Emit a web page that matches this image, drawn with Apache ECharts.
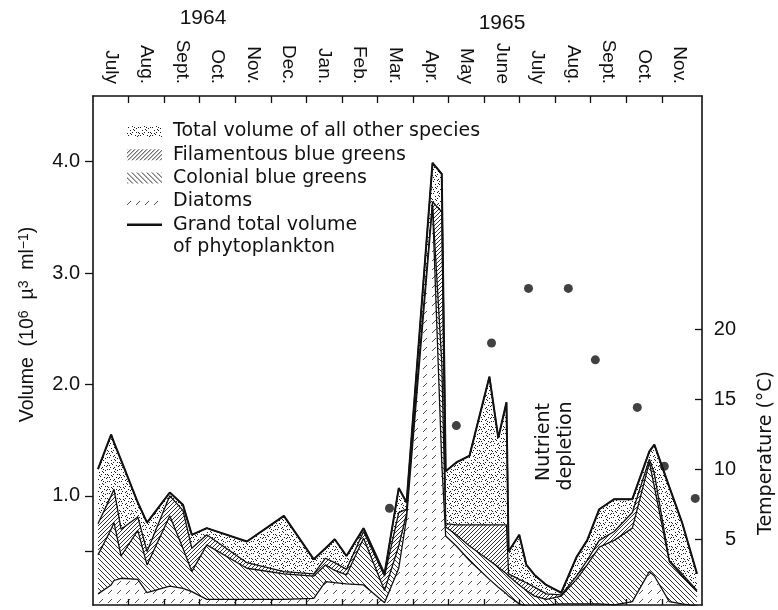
<!DOCTYPE html>
<html>
<head>
<meta charset="utf-8">
<script src="https://cdn.jsdelivr.net/npm/echarts@6/dist/echarts.min.js"></script>
<style>
  html, body { margin: 0; padding: 0; background: #fff; }
  #chart { width: 778px; height: 610px; }
</style>
</head>
<body>
<div id="chart"></div>
<script>
// Sampling dates, in months counted from 1 July 1964
const sampleMonths = [0.14, 0.51, 0.59, 0.79, 1.26, 1.52, 2.16, 2.53, 2.78, 3.20,
  4.33, 5.37, 6.21, 6.54, 6.80, 7.13, 7.61, 8.20, 8.60, 8.82,
  9.55, 9.81, 9.92, 10.22, 10.59, 11.15, 11.40, 11.63, 11.69, 11.99,
  12.19, 12.42, 12.75, 13.17, 13.60, 13.90, 14.24, 14.66, 15.17, 15.65,
  15.79, 16.21, 16.57, 16.99];

// Volume of each group (10^6 µ^3 ml^-1) at every sampling date
const diatoms = [0.12, 0.20, 0.24, 0.26, 0.25, 0.13, 0.19, 0.17, 0.14, 0.07,
  0.07, 0.07, 0.08, 0.23, 0.22, 0.21, 0.20, 0.04, 0.35, 0.80,
  3.60, 1.30, 0.64, 0.55, 0.42, 0.25, 0.18, 0.12, 0.10, 0.03,
  0.01, 0.01, 0.02, 0.03, 0.03, 0.03, 0.03, 0.02, 0.05, 0.32,
  0.28, 0.05, 0.03, 0.01];
const colonialBlueGreens = [0.35, 0.50, 0.52, 0.20, 0.44, 0.25, 0.63, 0.36, 0.18, 0.49,
  0.28, 0.23, 0.20, 0.15, 0.11, 0.08, 0.42, 0.11, 0.20, 0.04,
  0.02, 0.90, 0.08, 0.10, 0.13, 0.17, 0.18, 0.18, 0.18, 0.17,
  0.14, 0.09, 0.05, 0.07, 0.22, 0.35, 0.51, 0.58, 0.66, 0.98,
  0.80, 0.36, 0.25, 0.13];
const filamentousBlueGreens = [0.28, 0.30, 0.30, 0.24, 0.12, 0.12, 0.18, 0.34, 0.21, 0.09,
  0.05, 0.02, 0.02, 0.06, 0.07, 0.05, 0.06, 0.13, 0.30, 0.04,
  0.02, 1.35, 0.03, 0.09, 0.19, 0.32, 0.38, 0.44, 0.02, 0.05,
  0.07, 0.08, 0.05, 0.01, 0.03, 0.04, 0.06, 0.08, 0.14, 0.03,
  0.12, 0.01, 0.02, 0.01];
const otherSpecies = [0.49, 0.55, 0.42, 0.62, 0.13, 0.26, 0.03, 0.05, 0.12, 0.06,
  0.19, 0.50, 0.13, 0.09, 0.21, 0.12, 0.03, 0.02, 0.22, 0.06,
  0.35, 0.34, 0.47, 0.56, 0.62, 1.33, 0.78, 1.10, 0.20, 0.40,
  0.16, 0.11, 0.08, 0.02, 0.17, 0.18, 0.28, 0.29, 0.12, 0.07,
  0.26, 0.66, 0.46, 0.15];

// Water temperature (°C)
const temperatureMonths = [8.34, 10.22, 11.21, 12.25, 13.37, 14.13, 15.31, 16.07, 16.94];
const temperature = [7.2, 13.1, 19.0, 22.9, 22.9, 17.8, 14.4, 10.2, 7.9];

// Axis text
const monthLabels = ['July', 'Aug.', 'Sept.', 'Oct.', 'Nov.', 'Dec.', 'Jan.', 'Feb.', 'Mar.',
  'Apr.', 'May', 'June', 'July', 'Aug.', 'Sept.', 'Oct.', 'Nov.'];
const yearLabels = ['1964', '1965'];
const volumeTicks = [0.5, 1, 2, 3, 4];
const volumeLabels = [1, 2, 3, 4];
const temperatureTicks = [5, 10, 15, 20];

const NAMES = {
  others: 'Total volume of all other species',
  filamentous: 'Filamentous blue greens',
  colonial: 'Colonial blue greens',
  diatoms: 'Diatoms',
  total: 'Grand total volume'
};
const TOTAL_SECOND_LINE = 'of phytoplankton';

const SANS = '"Liberation Sans", Arial, Helvetica, sans-serif';
const WIDE = '"DejaVu Sans", Verdana, sans-serif';
const INK = '#111';

// ---- fill textures -------------------------------------------------------
function tile(size, paint) {
  const cv = document.createElement('canvas');
  cv.width = size; cv.height = size;
  const g = cv.getContext('2d');
  g.fillStyle = '#fff';
  g.fillRect(0, 0, size, size);
  paint(g, size);
  return { image: cv, repeat: 'repeat' };
}
function diagonal(g, s, forward) {
  g.beginPath();
  if (forward) {            // "/"
    g.moveTo(0, s); g.lineTo(s, 0);
    g.moveTo(-1, 1); g.lineTo(1, -1);
    g.moveTo(s - 1, s + 1); g.lineTo(s + 1, s - 1);
  } else {                  // "\"
    g.moveTo(0, 0); g.lineTo(s, s);
    g.moveTo(-1, s - 1); g.lineTo(1, s + 1);
    g.moveTo(s - 1, -1); g.lineTo(s + 1, 1);
  }
  g.stroke();
}
// fixed stipple layout for the "other species" fill
const stipple = tile(12, g => {
  g.fillStyle = '#1c1c1c';
  [[1, 1], [5, 0], [9, 2], [3, 4], [7, 4], [11, 6], [0, 7], [4, 8], [8, 9], [2, 11],
   [6, 11], [10, 10], [5, 6], [9, 6], [1, 9], [11, 1], [7, 1], [3, 7], [11, 9], [6, 3]]
    .forEach(p => g.fillRect(p[0], p[1], 1, 1));
});
const filamentousHatch = tile(4, (g, s) => {
  g.strokeStyle = '#1a1a1a'; g.lineWidth = 0.9; diagonal(g, s, true);
});
const colonialHatch = tile(5, (g, s) => {
  g.strokeStyle = '#1a1a1a'; g.lineWidth = 0.9; diagonal(g, s, false);
});
const diatomHatch = tile(9, g => {
  g.strokeStyle = '#3a3a3a'; g.lineWidth = 0.9;
  g.beginPath(); g.moveTo(0, 9); g.lineTo(4, 5); g.stroke();
});

// ---- stacked boundaries ---------------------------------------------------
const layerOrder = [diatoms, colonialBlueGreens, filamentousBlueGreens, otherSpecies];
const tops = [];
layerOrder.forEach((layer, k) => {
  tops.push(layer.map((v, i) => +(v + (k ? tops[k - 1][i] : 0)).toFixed(3)));
});
const grandTotal = tops[3];

function areaSeries(name, top, fill, z) {
  return {
    type: 'line', name, z,
    data: sampleMonths.map((m, i) => [m, top[i]]),
    symbol: 'none', showSymbol: false,
    lineStyle: { color: INK, width: 1.3 },
    itemStyle: { color: INK },
    areaStyle: { color: fill, opacity: 1, origin: 'start' },
    silent: true
  };
}

const monthCenters = monthLabels.map((_, i) => i + 0.5);
const monthEdges = monthLabels.slice(1).map((_, i) => i + 1);
const X_MAX = 17.13;

const axisLineStyle = { color: INK, width: 1.6 };
const tickStyle = { color: INK, width: 1.3 };
const legendText = { fontSize: 19, fontFamily: WIDE, color: INK, lineHeight: 23 };

const option = {
  animation: false,
  backgroundColor: '#fff',
  textStyle: { fontFamily: SANS },
  grid: { left: 93, right: 76, top: 96, bottom: 5 },
  xAxis: [
    {
      type: 'value', position: 'top', min: 0, max: X_MAX, z: 10,
      axisLine: { show: true, onZero: false, lineStyle: axisLineStyle },
      axisTick: { show: true, inside: true, length: 7, customValues: monthEdges, lineStyle: tickStyle },
      axisLabel: {
        show: true, customValues: monthCenters, rotate: 90, margin: 12,
        formatter: v => monthLabels[Math.floor(v)],
        fontSize: 19, fontFamily: SANS, color: INK
      },
      splitLine: { show: false }
    },
    {
      type: 'value', position: 'bottom', min: 0, max: X_MAX, z: 10,
      axisLine: { show: true, onZero: false, lineStyle: axisLineStyle },
      axisTick: { show: true, inside: true, length: 6, customValues: monthEdges, lineStyle: tickStyle },
      axisLabel: { show: false },
      splitLine: { show: false }
    }
  ],
  yAxis: [
    {
      type: 'value', position: 'left', min: 0.02, max: 4.59, z: 10,
      axisLine: { show: true, onZero: false, lineStyle: axisLineStyle },
      axisTick: { show: true, inside: false, length: 8, customValues: volumeTicks, lineStyle: tickStyle },
      axisLabel: {
        customValues: volumeLabels, formatter: v => v.toFixed(1), margin: 13,
        fontSize: 20, fontFamily: SANS, color: INK
      },
      splitLine: { show: false },
      name: 'Volume  (10{s|6}  µ{s|3}  ml{s|−1})',
      nameLocation: 'middle', nameRotate: 90, nameGap: 54,
      nameTextStyle: {
        fontSize: 19.5, fontFamily: SANS, color: INK, padding: [0, 0, 0, 52],
        rich: { s: { fontSize: 14, fontFamily: SANS, color: INK, verticalAlign: 'top', lineHeight: 22 } }
      }
    },
    {
      type: 'value', position: 'right', min: 0.29, max: 36.64, z: 10,
      axisLine: { show: true, onZero: false, lineStyle: axisLineStyle },
      axisTick: { show: true, inside: true, length: 7, customValues: temperatureTicks, lineStyle: tickStyle },
      axisLabel: {
        customValues: temperatureTicks, margin: 34, align: 'right',
        fontSize: 20, fontFamily: SANS, color: INK
      },
      splitLine: { show: false }
    }
  ],
  legend: {
    orient: 'vertical', left: 127, top: 120, padding: 0,
    itemWidth: 35, itemHeight: 11, itemGap: 0.3,
    selectedMode: false, icon: 'rect',
    textStyle: Object.assign({ padding: [0, 0, 0, 6] }, legendText),
    data: [
      { name: NAMES.others, itemStyle: { color: stipple, borderWidth: 0 } },
      { name: NAMES.filamentous, itemStyle: { color: filamentousHatch, borderWidth: 0 } },
      { name: NAMES.colonial, itemStyle: { color: colonialHatch, borderWidth: 0 } },
      { name: NAMES.diatoms, itemStyle: { color: diatomHatch, borderWidth: 0 } },
      { name: NAMES.total, icon: 'path://M0,0H40V3H0Z', itemStyle: { color: INK, borderWidth: 0 } }
    ]
  },
  graphic: [
    { type: 'text', x: 173, y: 247, style: { text: TOTAL_SECOND_LINE, fontSize: 19, fontFamily: WIDE, fill: INK, align: 'left', verticalAlign: 'middle' } },
    { type: 'text', x: 203, y: 18, style: { text: yearLabels[0], fontSize: 21, fontFamily: SANS, fill: INK, align: 'center', verticalAlign: 'middle' } },
    { type: 'text', x: 502, y: 23, style: { text: yearLabels[1], fontSize: 21, fontFamily: SANS, fill: INK, align: 'center', verticalAlign: 'middle' } },
    { type: 'text', x: 544, y: 442, rotation: Math.PI / 2, style: { text: 'Nutrient', fontSize: 19, fontFamily: WIDE, fill: INK, align: 'center', verticalAlign: 'middle' } },
    { type: 'text', x: 566, y: 446, rotation: Math.PI / 2, style: { text: 'depletion', fontSize: 19, fontFamily: WIDE, fill: INK, align: 'center', verticalAlign: 'middle' } },
    { type: 'text', x: 766, y: 453, rotation: Math.PI / 2, style: { text: 'Temperature (°C)', fontSize: 19, fontFamily: WIDE, fill: INK, align: 'center', verticalAlign: 'middle' } }
  ],
  series: [
    areaSeries(NAMES.others, tops[3], stipple, 2),
    areaSeries(NAMES.filamentous, tops[2], filamentousHatch, 3),
    areaSeries(NAMES.colonial, tops[1], colonialHatch, 4),
    areaSeries(NAMES.diatoms, tops[0], diatomHatch, 5),
    {
      type: 'line', name: NAMES.total, z: 7,
      data: sampleMonths.map((m, i) => [m, grandTotal[i]]),
      symbol: 'none', showSymbol: false,
      lineStyle: { color: INK, width: 2 }, itemStyle: { color: INK }, silent: true
    },
    {
      type: 'scatter', name: 'Temperature', xAxisIndex: 0, yAxisIndex: 1, z: 12, clip: false,
      data: temperatureMonths.map((m, i) => [m, temperature[i]]),
      symbolSize: 9, itemStyle: { color: INK }, silent: true
    }
  ]
};

const chart = echarts.init(document.getElementById('chart'), null, { renderer: 'canvas' });
chart.setOption(option);
</script>
</body>
</html>
